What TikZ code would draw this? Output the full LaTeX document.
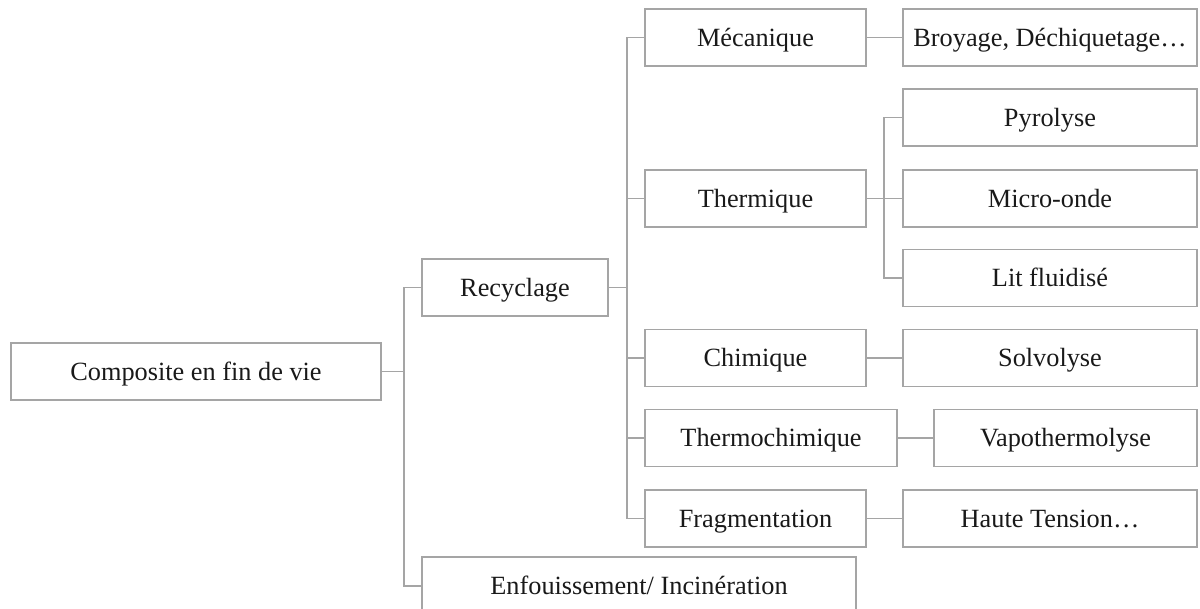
\documentclass[tikz,border=0pt]{standalone}
\usepackage{fontspec}
\setmainfont{Liberation Serif}
\definecolor{linegray}{RGB}{165,165,165}
\definecolor{txt}{RGB}{25,25,25}
\begin{document}
\begin{tikzpicture}[x=1pt,y=-1pt,
  box/.style={draw=linegray, line width=1.4pt, rectangle, minimum height=57pt,
    inner sep=0pt, text height=21.1pt, text depth=3.7pt, text=txt,
    font=\fontsize{26.3}{30}\selectfont},
  conn/.style={draw=linegray, line width=1.4pt}]
\useasboundingbox (0,0) rectangle (1200,609);
\clip (0,0) rectangle (1200,609);
% level 0
\node[box, minimum width=370pt] (comp) at (196,371.5) {Composite en fin de vie};
% level 1
\node[box, minimum width=186pt] (recy) at (515,287.5) {Recyclage};
\node[box, minimum width=434pt, minimum height=58pt] (enf) at (639,586) {Enfouissement/ Incinération};
% level 2
\node[box, minimum width=221pt] (mec) at (755.5,37.5) {Mécanique};
\node[box, minimum width=221pt] (the) at (755.5,198.5) {Thermique};
\node[box, minimum width=221pt] (chi) at (755.5,358) {Chimique};
\node[box, minimum width=252pt] (tch) at (771,438) {Thermochimique};
\node[box, minimum width=221pt] (fra) at (755.5,518.5) {Fragmentation};
% level 3
\node[box, minimum width=294pt] (bro) at (1050,37.5) {Broyage, Déchiquetage…};
\node[box, minimum width=294pt] (pyr) at (1050,117.5) {Pyrolyse};
\node[box, minimum width=294pt] (mic) at (1050,198.5) {Micro-onde};
\node[box, minimum width=294pt] (lit) at (1050,278) {Lit fluidisé};
\node[box, minimum width=294pt] (sol) at (1050,358) {Solvolyse};
\node[box, minimum width=263pt] (vap) at (1065.5,438) {Vapothermolyse};
\node[box, minimum width=294pt] (hau) at (1050,518.5) {Haute Tension…};
% trunks
\coordinate (t1) at (404,0);
\coordinate (t2) at (627,0);
\coordinate (t3) at (884,0);
% level 0 -> 1
\draw[conn] (comp.east) -- (comp.east -| t1);
\draw[conn] (recy.west) -| (t1 |- enf.west) -- (enf.west);
% level 1 -> 2
\draw[conn] (recy.east) -- (recy.east -| t2);
\draw[conn] (mec.west) -| (t2 |- fra.west) -- (fra.west);
\draw[conn] (the.west) -- (the.west -| t2);
\draw[conn] (chi.west) -- (chi.west -| t2);
\draw[conn] (tch.west) -- (tch.west -| t2);
% thermique -> 3
\draw[conn] (the.east) -- (the.east -| t3);
\draw[conn] (pyr.west) -| (t3 |- lit.west) -- (lit.west);
\draw[conn] (mic.west) -- (mic.west -| t3);
% direct
\draw[conn] (mec) -- (bro);
\draw[conn] (chi) -- (sol);
\draw[conn] (tch) -- (vap);
\draw[conn] (fra) -- (hau);
\end{tikzpicture}
\end{document}
